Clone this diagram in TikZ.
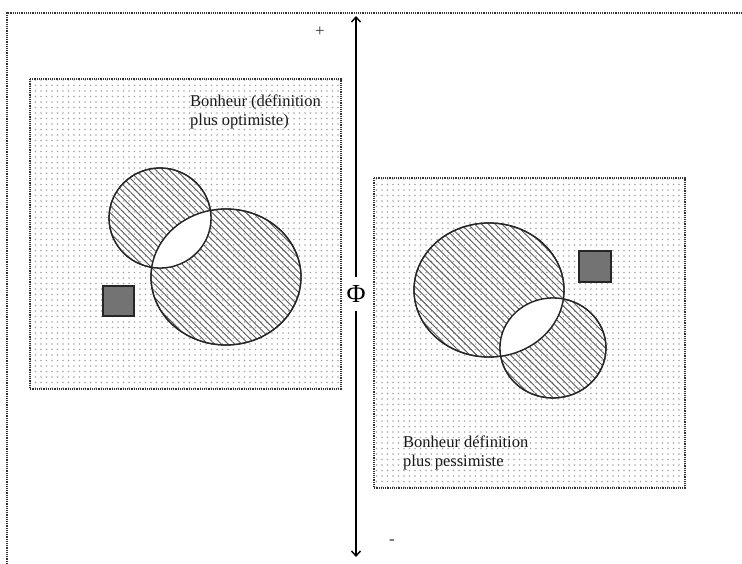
\documentclass[tikz,border=0pt]{standalone}
\usepackage{fontspec}
\setmainfont{Liberation Serif}
\usetikzlibrary{patterns.meta,arrows.meta}

\tikzset{
    frame line/.style={
        draw=black!80,line width=1.4pt,dash pattern=on 1.2pt off 1pt
    },
    dotted box/.style={
        frame line,
        pattern={Dots[distance=5.5pt,radius=.9pt,xshift=2.5pt]},pattern color=black!35
    },
    hatched set/.style={
        draw=black!85,line width=1.3pt,
        pattern={Lines[angle=-45,distance=4.8pt,line width=.9pt]},pattern color=black!65
    },
    grey square/.style={
        draw=black!85,line width=1.2pt,fill=black!55
    },
    box label/.style={
        align=left,anchor=north west,inner sep=0pt,
        font=\fontsize{16.5}{19}\selectfont,text=black!90
    }
}

\begin{document}
\begin{tikzpicture}[x=1pt,y=-1pt]
        \useasboundingbox (0,0) rectangle (742,564);
        % outer frame, open to the right and bottom
        \draw[frame line] (7,564) -- (7,13) -- (742,13);
        % the two definitions
        \path[dotted box] (30,79) rectangle (341,389);
        \path[dotted box] (374,178) rectangle (685,488);
        \node[box label] (optimiste) at (190,95) {Bonheur (définition\\plus optimiste)};
        \node[box label] (pessimiste) at (403,436) {Bonheur définition\\plus pessimiste};
        % left sets
        \path[hatched set] (160,218) ellipse (51 and 50);
        \path[hatched set] (226,277) ellipse (75 and 68);
        \begin{scope}
            \clip (160,218) ellipse (51 and 50);
            \fill[white] (226,277) ellipse (75 and 68);
        \end{scope}
        \draw[black!85,line width=1.3pt] (160,218) ellipse (51 and 50);
        \draw[black!85,line width=1.3pt] (226,277) ellipse (75 and 68);
        \path[grey square] (103,286) rectangle (134,316);
        % right sets
        \path[hatched set] (489,290) ellipse (75 and 67);
        \path[hatched set] (553,348) ellipse (53 and 50);
        \begin{scope}
            \clip (489,290) ellipse (75 and 67);
            \fill[white] (553,348) ellipse (53 and 50);
        \end{scope}
        \draw[black!85,line width=1.3pt] (489,290) ellipse (75 and 67);
        \draw[black!85,line width=1.3pt] (553,348) ellipse (53 and 50);
        \path[grey square] (579,251) rectangle (611,282);
        % axis
        \node[fill=white,inner sep=0pt,minimum width=18pt,minimum height=34pt,
            font=\fontsize{26}{26}\selectfont] (phi) at (356,294) {Φ};
        \coordinate (plus end) at (356,16);
        \coordinate (minus end) at (356,557);
        \draw[-{Straight Barb[length=5pt,width=9pt]},line width=1.4pt] (phi) -- (plus end);
        \draw[-{Straight Barb[length=5pt,width=9pt]},line width=1.4pt] (phi) -- (minus end);
        \node[font=\fontsize{17}{17}\selectfont,text=black!80] (plus) at (320,32) {+};
        \node[font=\fontsize{17}{17}\selectfont,text=black!80] (minus) at (392,542) {-};
    \end{tikzpicture}
\end{document}
